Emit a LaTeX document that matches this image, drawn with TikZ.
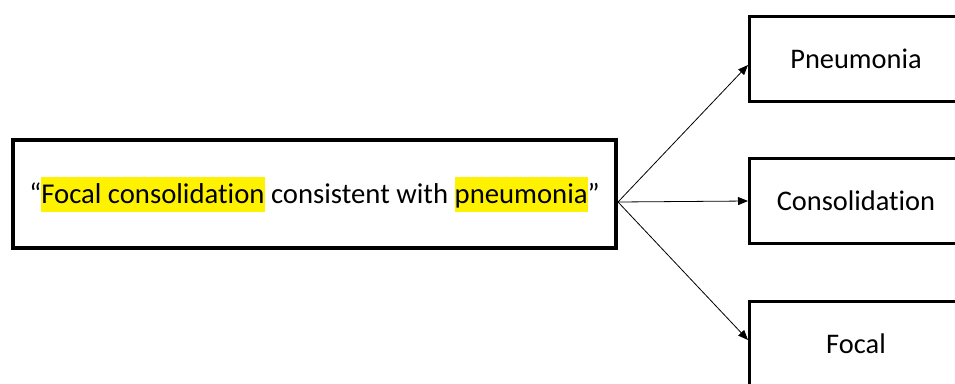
\documentclass[tikz,border=0pt]{standalone}
\usepackage{fontspec}
\setmainfont[Ligatures=NoCommon]{Carlito}
\usetikzlibrary{arrows.meta}
\newcommand{\hlt}[1]{{\setlength{\fboxsep}{0pt}\colorbox{yellow}{\rule[-8pt]{0pt}{35pt}#1}}}

\begin{document}
\begin{tikzpicture}[x=1pt,y=-1pt]
                \useasboundingbox (0,0) rectangle (955,383);
                \clip (0,0) rectangle (955,383);
                \begin{scope}[every node/.style={draw, line width=4pt, rectangle, inner sep=0, font=\fontsize{28.7}{34}\selectfont}]
                        \node[minimum width=603, minimum height=108] (src) at (314.5,194) {“\hlt{Focal consolidation} consistent with \hlt{pneumonia}”};
                \end{scope}
                \begin{scope}[every node/.style={draw, line width=3pt, rectangle, inner sep=0, minimum width=213, minimum height=85, font=\fontsize{28.4}{34}\selectfont}]
                        \node (pn) at (856,59) {Pneumonia};
                        \node (co) at (856,201) {Consolidation};
                        \node (fo) at (856,344) {Focal};
                \end{scope}
                \coordinate (fork) at ([yshift=-8pt]src.east);
                \begin{scope}[every path/.style={line width=0.8pt, ->, >={Triangle[length=10pt,width=8pt]}}]
                        \path (fork) edge ([yshift=-6pt]pn.west);
                        \path (fork) edge (co.west);
                        \path (fork) edge ([yshift=4pt]fo.west);
                \end{scope}
\end{tikzpicture}
\end{document}
